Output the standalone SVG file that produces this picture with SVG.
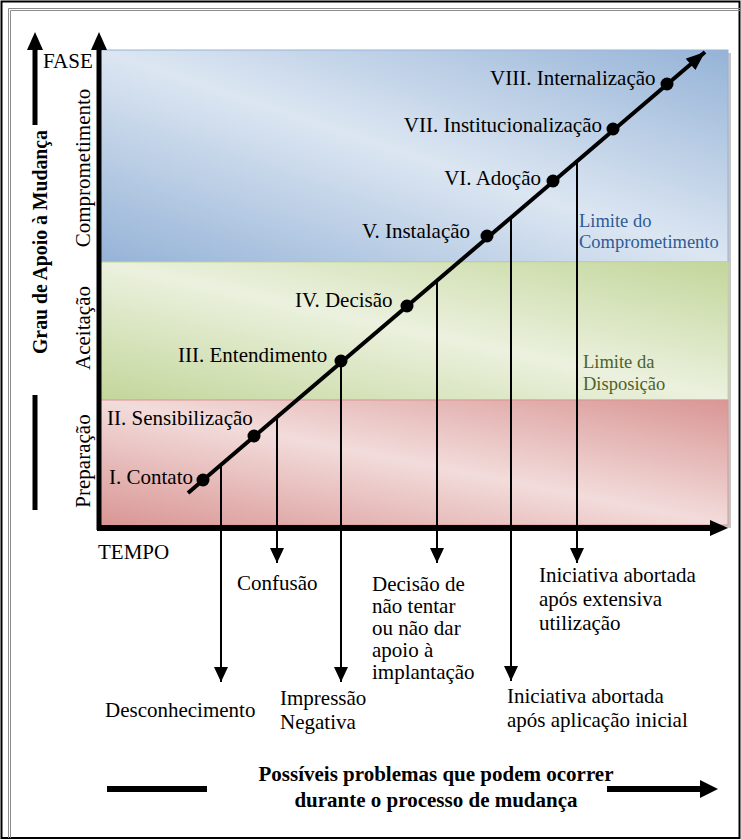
<svg xmlns="http://www.w3.org/2000/svg" width="741" height="840" viewBox="0 0 741 840">
<style>
text{font-family:"Liberation Serif","Times New Roman",serif;font-size:21px;fill:#000}
.b{font-weight:bold}
.lim{font-size:18.5px}
.blue{fill:#2e5b95}
.olive{fill:#4f6228}
.ax{stroke:#000;fill:none}
.drop{stroke:#000;stroke-width:2;fill:none;marker-end:url(#ah)}
.dot{fill:#000}
</style>
<defs>
<linearGradient id="gB" x1="0" y1="1" x2="1" y2="0"><stop offset="0" stop-color="#95b3d7"/><stop offset="0.5" stop-color="#dce6f2"/><stop offset="1" stop-color="#95b3d7"/></linearGradient>
<linearGradient id="gG" x1="0" y1="1" x2="1" y2="0"><stop offset="0" stop-color="#c3d69b"/><stop offset="0.5" stop-color="#ebf1de"/><stop offset="1" stop-color="#c3d69b"/></linearGradient>
<linearGradient id="gR" x1="0" y1="1" x2="1" y2="0"><stop offset="0" stop-color="#d99694"/><stop offset="0.5" stop-color="#f2dcdb"/><stop offset="1" stop-color="#d99694"/></linearGradient>
<marker id="ah" markerUnits="userSpaceOnUse" markerWidth="15" markerHeight="14" refX="15" refY="7" orient="auto"><path d="M0,0 L15,7 L0,14 z" fill="#000"/></marker>
<marker id="big" markerUnits="userSpaceOnUse" markerWidth="19" markerHeight="15" refX="19" refY="7.5" orient="auto"><path d="M0,0 L19,7.5 L0,15 z" fill="#000"/></marker>
</defs>
<rect x="0" y="0" width="741" height="840" fill="#fff"/>
<!-- frame -->
<rect x="1.5" y="1.5" width="738" height="836.5" fill="none" stroke="#000" stroke-width="2"/>
<path d="M8.5,838 V8.5 H740 M10.5,838 V10.5 H740" fill="none" stroke="#8c8c8c" stroke-width="1"/>
<!-- bands -->
<g id="bands">
<rect x="103" y="53" width="628" height="475" fill="#7f7f7f" opacity="0.45"/>
<rect id="band-comprometimento" x="100" y="50" width="628" height="212" fill="url(#gB)" stroke="#95b3d7" stroke-width="1"/>
<rect id="band-aceitacao" x="100" y="262" width="628" height="138" fill="url(#gG)" stroke="#c3d69b" stroke-width="1"/>
<rect id="band-preparacao" x="100" y="400" width="628" height="125" fill="url(#gR)" stroke="#d99694" stroke-width="1"/>
</g>
<!-- axes -->
<g id="axes">
<line class="ax" x1="99" y1="530" x2="99" y2="48" stroke-width="5"/>
<polygon points="91,50 99,32 107,50" fill="#000"/>
<line class="ax" x1="97" y1="528" x2="712" y2="528" stroke-width="6"/>
<polygon points="710,520 728,528 710,536" fill="#000"/>
<line class="ax" x1="35" y1="125" x2="35" y2="48" stroke-width="5"/>
<polygon points="27,50 35,32 43,50" fill="#000"/>
<line class="ax" x1="35" y1="395" x2="35" y2="510" stroke-width="5"/>
</g>
<g id="axis-labels">
<text x="43" y="68">FASE</text>
<text x="98" y="559">TEMPO</text>
<text class="b" font-size="20" transform="translate(47,242) rotate(-90)" text-anchor="middle" textLength="224" lengthAdjust="spacingAndGlyphs">Grau de Apoio à Mudança</text>
<text transform="translate(90,168) rotate(-90)" text-anchor="middle">Comprometimento</text>
<text transform="translate(90,328) rotate(-90)" text-anchor="middle">Aceitação</text>
<text transform="translate(90,461) rotate(-90)" text-anchor="middle">Preparação</text>
<text class="lim blue" x="579" y="227">Limite do</text>
<text class="lim blue" x="579" y="248">Comprometimento</text>
<text class="lim olive" x="583" y="368">Limite da</text>
<text class="lim olive" x="583" y="390">Disposição</text>
</g>
<!-- connectors -->
<g id="connectors">
<line x1="188" y1="493" x2="705" y2="52" stroke="#000" stroke-width="4" marker-end="url(#big)"/>
<line class="drop" x1="221" y1="465" x2="221" y2="682"/>
<line class="drop" x1="277" y1="417" x2="277" y2="563"/>
<line class="drop" x1="341" y1="362" x2="341" y2="682"/>
<line class="drop" x1="437" y1="280" x2="437" y2="563"/>
<line class="drop" x1="511" y1="217" x2="511" y2="681"/>
<line class="drop" x1="577" y1="161" x2="577" y2="563"/>
</g>
<!-- phases -->
<g id="fase-1"><circle class="dot" cx="203" cy="480" r="6.5"/><text x="193" y="484" text-anchor="end">I. Contato</text></g>
<g id="fase-2"><circle class="dot" cx="254" cy="436" r="6.5"/><text x="107" y="425">II. Sensibilização</text></g>
<g id="fase-3"><circle class="dot" cx="341" cy="361" r="6.5"/><text x="178" y="362">III. Entendimento</text></g>
<g id="fase-4"><circle class="dot" cx="407" cy="306" r="6.5"/><text x="295" y="307">IV. Decisão</text></g>
<g id="fase-5"><circle class="dot" cx="487" cy="236" r="6.5"/><text x="362" y="238">V. Instalação</text></g>
<g id="fase-6"><circle class="dot" cx="553" cy="181" r="6.5"/><text x="541" y="185" text-anchor="end">VI. Adoção</text></g>
<g id="fase-7"><circle class="dot" cx="613" cy="129" r="6.5"/><text x="602" y="132" text-anchor="end">VII. Institucionalização</text></g>
<g id="fase-8"><circle class="dot" cx="667" cy="84" r="6.5"/><text x="490" y="85">VIII. Internalização</text></g>
<!-- problems -->
<g id="prob-desconhecimento"><text x="105" y="717">Desconhecimento</text></g>
<g id="prob-confusao"><text x="237" y="590">Confusão</text></g>
<g id="prob-impressao"><text x="280" y="705">Impressão</text><text x="280" y="729">Negativa</text></g>
<g id="prob-decisao"><text x="372" y="591">Decisão de</text><text x="372" y="613">não tentar</text><text x="372" y="635">ou não dar</text><text x="372" y="657">apoio à</text><text x="372" y="679">implantação</text></g>
<g id="prob-inicial"><text x="507" y="703">Iniciativa abortada</text><text x="507" y="727">após aplicação inicial</text></g>
<g id="prob-extensiva"><text x="539" y="582">Iniciativa abortada</text><text x="539" y="606">após extensiva</text><text x="539" y="630">utilização</text></g>
<!-- footer -->
<g id="footer">
<line x1="107" y1="789" x2="207" y2="789" stroke="#000" stroke-width="6"/>
<line x1="607" y1="789" x2="702" y2="789" stroke="#000" stroke-width="6"/>
<polygon points="700,780 718,789 700,798" fill="#000"/>
<text class="b" x="436" y="781" text-anchor="middle">Possíveis problemas que podem ocorrer</text>
<text class="b" x="436" y="807" text-anchor="middle">durante o processo de mudança</text>
</g>
</svg>
